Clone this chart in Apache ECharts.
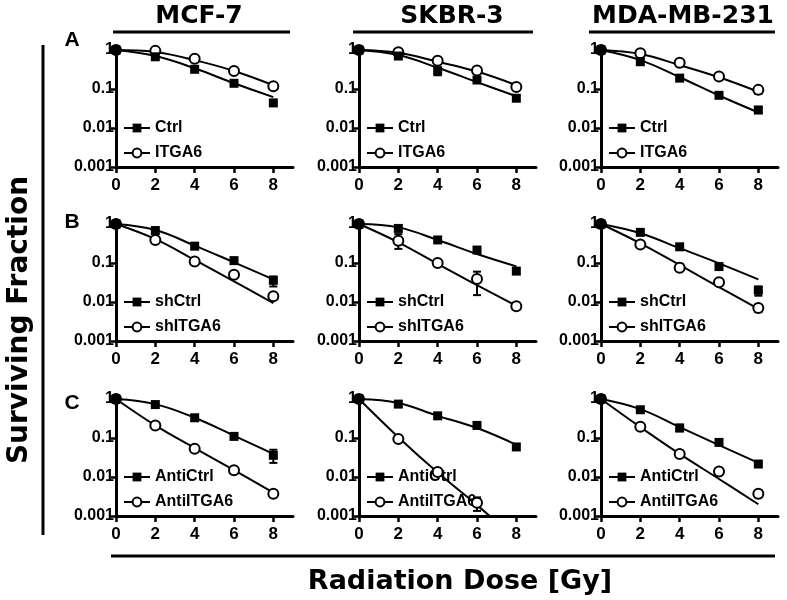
<!DOCTYPE html>
<html><head><meta charset="utf-8">
<script src="https://cdn.jsdelivr.net/npm/echarts@6/dist/echarts.min.js"></script>
<style>html,body{margin:0;padding:0;background:#fff}#c{width:787px;height:600px}</style>
</head><body><div id="c"></div>
<script>
// ---------------- DATA ----------------
const doses = [0, 2, 4, 6, 8];
const xTickValues = [0, 2, 4, 6, 8];
const yTickLabels = ['0.001', '0.01', '0.1', '1'];
const cellLines = ['MCF-7', 'SKBR-3', 'MDA-MB-231'];
const panelLetters = ['A', 'B', 'C'];
const rowNamesA = ['Ctrl', 'ITGA6'];
const rowNamesB = ['shCtrl', 'shITGA6'];
const rowNamesC = ['AntiCtrl', 'AntiITGA6'];

// Row A (Ctrl / ITGA6) : measured points and fitted curve values
const mcf7A_ctrl = [1, 0.67, 0.32, 0.14, 0.044];
const mcf7A_itga6 = [1, 0.95, 0.60, 0.29, 0.117];
const mcf7A_ctrlFit = [1, 0.70, 0.34, 0.14, 0.062];
const mcf7A_itga6Fit = [1, 0.89, 0.55, 0.29, 0.125];
const mcf7A_ctrlErr = [];
const mcf7A_itga6Err = [];

const skbrA_ctrl = [1, 0.70, 0.29, 0.17, 0.058];
const skbrA_itga6 = [1, 0.87, 0.53, 0.30, 0.113];
const skbrA_ctrlFit = [1, 0.74, 0.35, 0.15, 0.065];
const skbrA_itga6Fit = [1, 0.85, 0.50, 0.28, 0.125];
const skbrA_ctrlErr = [[4, 0.225, 0.36]];
const skbrA_itga6Err = [];

const mdaA_ctrl = [1, 0.50, 0.19, 0.069, 0.029];
const mdaA_itga6 = [1, 0.82, 0.47, 0.21, 0.095];
const mdaA_ctrlFit = [1, 0.55, 0.20, 0.068, 0.025];
const mdaA_itga6Fit = [1, 0.79, 0.41, 0.20, 0.085];
const mdaA_ctrlErr = [[8, 0.024, 0.034]];
const mdaA_itga6Err = [[4, 0.38, 0.55], [8, 0.075, 0.115]];

// Row B (shCtrl / shITGA6)
const mcf7B_ctrl = [1, 0.68, 0.27, 0.115, 0.036];
const mcf7B_itga6 = [1, 0.39, 0.11, 0.05, 0.014];
const mcf7B_ctrlFit = [1, 0.70, 0.28, 0.104, 0.038];
const mcf7B_itga6Fit = [1, 0.41, 0.12, 0.034, 0.0093];
const mcf7B_ctrlErr = [[8, 0.025, 0.045]];
const mcf7B_itga6Err = [];

const skbrB_ctrl = [1, 0.77, 0.39, 0.215, 0.062];
const skbrB_itga6 = [1, 0.37, 0.10, 0.039, 0.0078];
const skbrB_ctrlFit = [1, 0.82, 0.39, 0.17, 0.082];
const skbrB_itga6Fit = [1, 0.34, 0.095, 0.027, 0.008];
const skbrB_ctrlErr = [];
const skbrB_itga6Err = [[2, 0.23, 0.55], [6, 0.015, 0.06], [8, 0.0065, 0.009]];

const mdaB_ctrl = [1, 0.61, 0.26, 0.081, 0.02];
const mdaB_itga6 = [1, 0.30, 0.076, 0.032, 0.007];
const mdaB_ctrlFit = [1, 0.58, 0.24, 0.098, 0.038];
const mdaB_itga6Fit = [1, 0.32, 0.089, 0.024, 0.0067];
const mdaB_ctrlErr = [[8, 0.0145, 0.025]];
const mdaB_itga6Err = [[4, 0.062, 0.095], [8, 0.0055, 0.0085]];

// Row C (AntiCtrl / AntiITGA6)
const mcf7C_ctrl = [1, 0.72, 0.33, 0.11, 0.036];
const mcf7C_itga6 = [1, 0.21, 0.053, 0.015, 0.0037];
const mcf7C_ctrlFit = [1, 0.74, 0.33, 0.115, 0.039];
const mcf7C_itga6Fit = [1, 0.21, 0.055, 0.015, 0.004];
const mcf7C_ctrlErr = [[8, 0.023, 0.05]];
const mcf7C_itga6Err = [[6, 0.012, 0.018]];

const skbrC_ctrl = [1, 0.74, 0.37, 0.21, 0.059];
const skbrC_itga6 = [1, 0.094, 0.0135, 0.0022, null];
const skbrC_ctrlFit = [1, 0.79, 0.37, 0.18, 0.067];
const skbrC_itga6Fit = [1, 0.105, 0.013, 0.0019, 0.00025];
const skbrC_ctrlErr = [];
const skbrC_itga6Err = [[6, 0.00135, 0.003]];

const mdaC_ctrl = [1, 0.53, 0.18, 0.077, 0.0215];
const mdaC_itga6 = [1, 0.195, 0.039, 0.0138, 0.0037];
const mdaC_ctrlFit = [1, 0.55, 0.19, 0.066, 0.023];
const mdaC_itga6Fit = [1, 0.19, 0.039, 0.0089, 0.002];
const mdaC_ctrlErr = [[4, 0.15, 0.22]];
const mdaC_itga6Err = [[4, 0.033, 0.046], [6, 0.012, 0.016], [8, 0.003, 0.0045]];

// ---------------- LAYOUT ----------------
const colLeft = [116, 359, 601];
const rowTop = [50, 224, 399];
const gridW = 177, gridH = 117;
const tickFont = '"Liberation Sans", Arial, sans-serif';
const titleFont = '"DejaVu Sans", sans-serif';

const panels = [
  [rowNamesA, mcf7A_ctrl, mcf7A_itga6, mcf7A_ctrlFit, mcf7A_itga6Fit, mcf7A_ctrlErr, mcf7A_itga6Err],
  [rowNamesA, skbrA_ctrl, skbrA_itga6, skbrA_ctrlFit, skbrA_itga6Fit, skbrA_ctrlErr, skbrA_itga6Err],
  [rowNamesA, mdaA_ctrl, mdaA_itga6, mdaA_ctrlFit, mdaA_itga6Fit, mdaA_ctrlErr, mdaA_itga6Err],
  [rowNamesB, mcf7B_ctrl, mcf7B_itga6, mcf7B_ctrlFit, mcf7B_itga6Fit, mcf7B_ctrlErr, mcf7B_itga6Err],
  [rowNamesB, skbrB_ctrl, skbrB_itga6, skbrB_ctrlFit, skbrB_itga6Fit, skbrB_ctrlErr, skbrB_itga6Err],
  [rowNamesB, mdaB_ctrl, mdaB_itga6, mdaB_ctrlFit, mdaB_itga6Fit, mdaB_ctrlErr, mdaB_itga6Err],
  [rowNamesC, mcf7C_ctrl, mcf7C_itga6, mcf7C_ctrlFit, mcf7C_itga6Fit, mcf7C_ctrlErr, mcf7C_itga6Err],
  [rowNamesC, skbrC_ctrl, skbrC_itga6, skbrC_ctrlFit, skbrC_itga6Fit, skbrC_ctrlErr, skbrC_itga6Err],
  [rowNamesC, mdaC_ctrl, mdaC_itga6, mdaC_ctrlFit, mdaC_itga6Fit, mdaC_ctrlErr, mdaC_itga6Err]
];

const toPairs = arr => doses.map((d, k) => [d, arr[k]]).filter(p => p[1] != null);

const grids = [], xAxes = [], yAxes = [], series = [], legends = [];

panels.forEach((p, i) => {
  const r = Math.floor(i / 3), c = i % 3;
  const [names, ctrl, itga, ctrlFit, itgaFit, ctrlErr, itgaErr] = p;
  grids.push({ left: colLeft[c], top: rowTop[r], width: gridW, height: gridH, containLabel: false });
  xAxes.push({
    type: 'value', gridIndex: i, min: 0, max: 9,
    axisLine: { show: true, onZero: false, lineStyle: { color: '#000', width: 3 } },
    axisTick: { show: true, customValues: xTickValues, length: 6, lineStyle: { color: '#000', width: 2.5 } },
    axisLabel: { customValues: xTickValues, margin: 10, color: '#000', fontSize: 17, fontWeight: 'bold', fontFamily: tickFont },
    splitLine: { show: false }
  });
  yAxes.push({
    type: 'log', logBase: 10, gridIndex: i, min: 0.001, max: 1,
    axisLine: { show: true, onZero: false, lineStyle: { color: '#000', width: 3 } },
    axisTick: { show: true, length: 5, lineStyle: { color: '#000', width: 2.5 } },
    axisLabel: {
      margin: 2, color: '#000', fontSize: 16, fontWeight: 'bold', fontFamily: tickFont,
      formatter: v => yTickLabels[Math.round(Math.log10(v)) + 3]
    },
    splitLine: { show: false }, minorTick: { show: false }
  });
  // fitted curves
  [ctrlFit, itgaFit].forEach(f => series.push({
    type: 'line', xAxisIndex: i, yAxisIndex: i, data: toPairs(f), smooth: 0.4,
    symbol: 'none', lineStyle: { color: '#000', width: 2 }, z: 2, silent: true, clip: true
  }));
  // error bars
  [ctrlErr, itgaErr].forEach(e => {
    if (!e.length) return;
    series.push({
      type: 'custom', xAxisIndex: i, yAxisIndex: i, data: e, z: 3, silent: true,
      encode: { x: 0, y: [1, 2] },
      renderItem: (params, api) => {
        const x = api.value(0);
        const a = api.coord([x, api.value(1)]), b = api.coord([x, api.value(2)]);
        const w = 4, st = { stroke: '#000', lineWidth: 2 };
        return { type: 'group', children: [
          { type: 'line', shape: { x1: a[0], y1: a[1], x2: b[0], y2: b[1] }, style: st },
          { type: 'line', shape: { x1: a[0] - w, y1: a[1], x2: a[0] + w, y2: a[1] }, style: st },
          { type: 'line', shape: { x1: b[0] - w, y1: b[1], x2: b[0] + w, y2: b[1] }, style: st }
        ] };
      }
    });
  });
  // points: open circles then filled squares
  series.push({
    type: 'line', name: names[1], xAxisIndex: i, yAxisIndex: i, data: toPairs(itga),
    symbol: 'circle', symbolSize: 10, showAllSymbol: true,
    itemStyle: { color: '#fff', borderColor: '#000', borderWidth: 2 },
    lineStyle: { opacity: 0, color: '#000' }, z: 4, silent: true, clip: false
  });
  series.push({
    type: 'line', name: names[0], xAxisIndex: i, yAxisIndex: i, data: toPairs(ctrl),
    symbol: 'rect', symbolSize: 9, showAllSymbol: true,
    itemStyle: { color: '#000', borderWidth: 0 },
    lineStyle: { opacity: 0, color: '#000' }, z: 5, silent: true, clip: false
  });
  legends.push({
    data: [names[0], names[1]], orient: 'vertical', left: colLeft[c] + 7, top: rowTop[r] + 70,
    itemWidth: 26, itemHeight: 11, itemGap: 9, padding: 0, selectedMode: false,
    textStyle: { color: '#000', fontSize: 16, fontWeight: 'bold', fontFamily: tickFont, lineHeight: 16 },
    lineStyle: { color: '#000', width: 2, opacity: 1 }
  });
});

const textStyle = (font, size) => ({ fill: '#000', font: 'bold ' + size + 'px ' + font, textAlign: 'center', textVerticalAlign: 'middle' });
const graphic = [
  { type: 'text', x: 199, y: 16, style: Object.assign({ text: cellLines[0] }, textStyle(titleFont, 25)) },
  { type: 'text', x: 452, y: 16, style: Object.assign({ text: cellLines[1] }, textStyle(titleFont, 25)) },
  { type: 'text', x: 683, y: 16, style: Object.assign({ text: cellLines[2] }, textStyle(titleFont, 25)) },
  { type: 'line', shape: { x1: 113, y1: 32, x2: 290, y2: 32 }, style: { stroke: '#000', lineWidth: 3 } },
  { type: 'line', shape: { x1: 353, y1: 32, x2: 533, y2: 32 }, style: { stroke: '#000', lineWidth: 3 } },
  { type: 'line', shape: { x1: 589, y1: 32, x2: 775, y2: 32 }, style: { stroke: '#000', lineWidth: 3 } },
  { type: 'text', x: 72, y: 40, style: Object.assign({ text: panelLetters[0] }, textStyle(tickFont, 21)) },
  { type: 'text', x: 72, y: 222, style: Object.assign({ text: panelLetters[1] }, textStyle(tickFont, 21)) },
  { type: 'text', x: 72, y: 403, style: Object.assign({ text: panelLetters[2] }, textStyle(tickFont, 21)) },
  { type: 'line', shape: { x1: 43, y1: 45, x2: 43, y2: 535 }, style: { stroke: '#000', lineWidth: 3 } },
  { type: 'line', shape: { x1: 111, y1: 556, x2: 775, y2: 556 }, style: { stroke: '#000', lineWidth: 3 } },
  { type: 'text', x: 20, y: 320, rotation: Math.PI / 2, style: Object.assign({ text: 'Surviving Fraction' }, textStyle(titleFont, 28)) },
  { type: 'text', x: 460, y: 582, style: Object.assign({ text: 'Radiation Dose [Gy]' }, textStyle(titleFont, 27)) }
];

const chart = echarts.init(document.getElementById('c'), null, { renderer: 'canvas' });
chart.setOption({
  animation: false, backgroundColor: '#fff',
  grid: grids, xAxis: xAxes, yAxis: yAxes, series: series, legend: legends, graphic: graphic
});
</script></body></html>
